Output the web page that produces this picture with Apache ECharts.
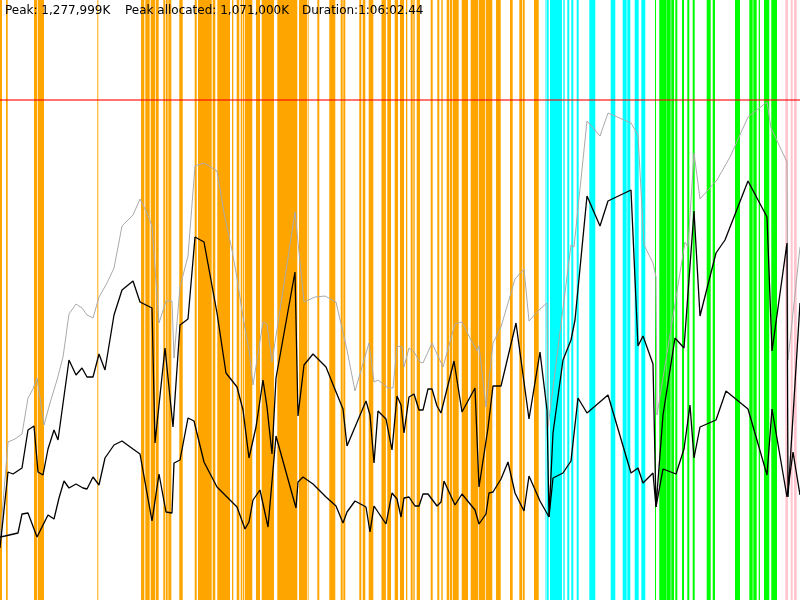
<!DOCTYPE html>
<html>
<head>
<meta charset="utf-8">
<title>memory</title>
<script src="https://cdn.jsdelivr.net/npm/echarts@6/dist/echarts.min.js"></script>
<style>
  html, body { margin: 0; padding: 0; background: #fff; }
  #chart { width: 800px; height: 600px; }
</style>
</head>
<body>
<div id="chart"></div>
<script>
// 标题文字
const peakText = "Peak: 1,277,999K";
const allocText = "Peak allocated: 1,071,000K";
const durationText = "Duration:1:06:02.44";

// 峰值线 (y 轴单位, 500 = 峰值)
const peakLevel = 500;

// 竖条区间 [开始, 结束]
const orangeBands = [
  [0, 2], [6, 7.7], [34, 37.3], [38, 44], [97.3, 98.3],
  [141, 144.3], [145.3, 149.7], [150.7, 155], [155.7, 158.7], [163.3, 165.3],
  [166, 167.7], [168.3, 171.3], [179.3, 182.7], [194.7, 196.7], [198, 211.7],
  [212.7, 215.3], [217.3, 230], [232, 233.3], [236.7, 239.3], [240.7, 242],
  [242.7, 244], [244.7, 252.3], [256, 260], [261.7, 274], [277.3, 297.3],
  [299, 307.3], [308, 308.6], [317.3, 319.3], [329.3, 335.3], [340.7, 342.7],
  [343.3, 345.3], [359.3, 361.3], [362.7, 365.3], [368.7, 373.3], [381.5, 385.9],
  [387.3, 391], [394.7, 398], [400, 404], [406, 407.3], [410.7, 412.7],
  [413.3, 414.7], [416.7, 420], [430.7, 432.7], [437.3, 439.3], [441.3, 442.7],
  [446.7, 449.3], [450, 452], [452.7, 458.7], [461.7, 468], [470.7, 478],
  [478.7, 485.3], [486, 492.3], [496, 500.7], [510, 512.7], [519.3, 522],
  [522.7, 524.7], [534, 538.7]
];
const cyanBands = [
  [545.5, 546.2], [546.7, 548.7], [550, 562], [563.3, 564.7], [567.3, 569.3],
  [571.3, 573.3], [576.7, 578.7], [589.3, 595.3], [610.7, 615.3], [622.7, 626.7],
  [627.3, 630.3], [634.7, 638.7], [641.3, 645.3]
];
const greenBands = [
  [655, 656], [659.3, 666], [666.3, 670.7], [671.3, 674], [675.3, 677.3],
  [682, 684], [687.3, 689.3], [692.7, 694.7], [706.7, 710.7], [712.7, 715],
  [735, 740], [749.3, 752.7], [753.3, 756.7], [758.7, 760], [764, 769.3],
  [771.3, 777]
];
const pinkBands = [[785.3, 788], [790.7, 792.7], [794, 796.7]];

// 三条曲线 [x, y]
const grayLine = [
  [0, 60], [8, 158], [15, 161], [22, 166], [28, 202], [33, 211], [37, 222], [44, 175],
  [50, 197], [57, 220], [63, 243], [69, 286], [76, 296], [82, 292], [87, 285], [93, 282],
  [99, 303], [107, 317], [114, 332], [122, 374], [133, 385], [140, 401], [147, 387], [152, 374],
  [159, 277], [166, 299], [172, 299], [174, 242], [180, 313], [188, 344], [195, 434], [204, 437],
  [217, 429], [224, 387], [232, 350], [237, 322], [243, 283], [249, 250], [253, 215], [263, 278],
  [267, 276], [272, 238], [295, 388], [304, 298], [315, 303], [325, 304], [336, 298], [347, 250],
  [355, 209], [369, 257], [374, 218], [378, 220], [388, 212], [393, 212], [397, 254], [402, 253],
  [404, 233], [409, 252], [414, 248], [420, 238], [423, 237], [432, 257], [443, 233], [455, 276],
  [462, 278], [471, 260], [477, 249], [479, 254], [486, 193], [493, 257], [501, 273], [515, 321],
  [524, 331], [529, 279], [540, 291], [547, 297], [548, 173], [571, 355], [574, 353], [587, 479],
  [600, 464], [608, 487], [631, 477], [638, 465], [644, 355], [653, 337], [656, 323], [657, 185],
  [685, 358], [688, 353], [694, 447], [700, 401], [717, 420], [730, 443], [748, 483], [767, 498],
  [771, 472], [787, 438], [788, 240], [800, 353]
];
const midLine = [
  [0, 52], [8, 128], [13, 126], [22, 132], [28, 170], [34, 174], [38, 128], [43, 125],
  [48, 151], [54, 170], [58, 160], [69, 240], [76, 225], [82, 232], [87, 223], [93, 223],
  [99, 246], [105, 230], [114, 285], [122, 310], [133, 319], [140, 298], [152, 292], [155, 157],
  [165, 252], [173, 173], [180, 275], [188, 281], [195, 363], [204, 358], [217, 287], [226, 227],
  [237, 213], [243, 190], [249, 142], [256, 173], [263, 220], [267, 193], [272, 146], [276, 222],
  [295, 328], [298, 184], [304, 235], [313, 246], [326, 233], [334, 213], [343, 191], [347, 154],
  [366, 199], [370, 185], [374, 137], [378, 189], [386, 181], [392, 150], [397, 204], [401, 195],
  [404, 167], [409, 203], [414, 206], [419, 190], [423, 190], [428, 211], [432, 211], [437, 194],
  [441, 187], [454, 239], [462, 188], [475, 212], [479, 113], [488, 172], [493, 214], [501, 214],
  [516, 277], [529, 181], [540, 248], [547, 190], [549, 83], [553, 167], [563, 240], [571, 260],
  [575, 280], [587, 404], [600, 374], [608, 399], [631, 410], [638, 254], [643, 264], [653, 236],
  [656, 93], [663, 185], [675, 262], [684, 252], [694, 389], [700, 284], [716, 347], [725, 360],
  [748, 419], [767, 383], [772, 249], [787, 357], [788, 103], [800, 297]
];
const lowLine = [
  [0, 63], [5, 64], [18, 67], [22, 86], [28, 87], [37, 63], [43, 75], [48, 85],
  [54, 81], [59, 102], [64, 119], [69, 112], [76, 116], [83, 112], [87, 111], [93, 123],
  [99, 115], [105, 142], [114, 155], [122, 159], [133, 151], [140, 146], [152, 79], [159, 126],
  [166, 88], [172, 87], [174, 137], [180, 140], [188, 182], [194, 179], [204, 138], [217, 113],
  [237, 93], [245, 71], [249, 78], [253, 100], [260, 110], [268, 73], [276, 164], [296, 92],
  [298, 118], [303, 123], [313, 116], [326, 103], [336, 94], [343, 77], [347, 88], [355, 99],
  [366, 93], [370, 68], [374, 94], [386, 76], [392, 107], [397, 101], [401, 83], [404, 102],
  [409, 103], [415, 94], [419, 94], [423, 106], [428, 106], [437, 94], [441, 98], [444, 119],
  [455, 95], [462, 106], [475, 90], [479, 76], [486, 86], [489, 107], [493, 108], [501, 121],
  [508, 138], [515, 107], [524, 89], [529, 124], [540, 99], [549, 83], [553, 122], [563, 127],
  [571, 139], [578, 202], [587, 187], [608, 205], [631, 127], [638, 132], [643, 117], [653, 127],
  [656, 93], [663, 131], [676, 126], [684, 151], [690, 195], [694, 142], [700, 173], [716, 180],
  [726, 209], [748, 191], [767, 125], [772, 191], [787, 103], [793, 148], [800, 105]
];

const xMax = 800;
const yMax = 600;

// 竖条: 用坐标轴换算成矩形
function bandItem(params, api) {
  let p0 = api.coord([api.value(0), yMax]);
  let p1 = api.coord([api.value(1), 0]);
  return {
    type: "rect",
    shape: { x: p0[0], y: p0[1], width: p1[0] - p0[0], height: p1[1] - p0[1] },
    style: { fill: api.visual("color") },
  };
}

function bandSeries(data, color) {
  return {
    type: "custom",
    renderItem: bandItem,
    data: data,
    encode: { x: [0, 1] },
    itemStyle: { color: color },
    silent: true,
    z: 1,
  };
}

function lineSeries(data, color, width) {
  return {
    type: "line",
    data: data,
    showSymbol: false,
    symbol: "none",
    lineStyle: { color: color, width: width },
    itemStyle: { color: color },
    silent: true,
    z: 3,
  };
}

function textItem(left, text) {
  return {
    type: "text",
    left: left,
    top: 5,
    z: 10,
    style: { text: text, fill: "#000", font: "12px 'DejaVu Sans'" },
  };
}

let options = {
  animation: false,
  backgroundColor: "#fff",
  grid: { left: 0, right: 0, top: 0, bottom: 0 },
  xAxis: { type: "value", min: 0, max: xMax, show: false },
  yAxis: { type: "value", min: 0, max: yMax, show: false },
  graphic: [textItem(5, peakText), textItem(125, allocText), textItem(302, durationText)],
  series: [
    bandSeries(orangeBands, "#ffa500"),
    bandSeries(cyanBands, "#00ffff"),
    bandSeries(greenBands, "#00ff00"),
    bandSeries(pinkBands, "#ffc6cf"),
    lineSeries(grayLine, "#aaaaaa", 1),
    lineSeries(midLine, "#000000", 1.3),
    lineSeries(lowLine, "#000000", 1.3),
    {
      // 峰值红线
      type: "line",
      data: [],
      silent: true,
      z: 4,
      markLine: {
        symbol: "none",
        silent: true,
        label: { show: false },
        lineStyle: { color: "rgba(255,0,0,0.55)", width: 2, type: "solid" },
        data: [{ yAxis: peakLevel }],
      },
    },
  ],
};

function initEchart(ref, opts) {
  let myChart = echarts.init(ref);
  myChart.setOption(opts);
}

initEchart(document.getElementById("chart"), options);
</script>
</body>
</html>
